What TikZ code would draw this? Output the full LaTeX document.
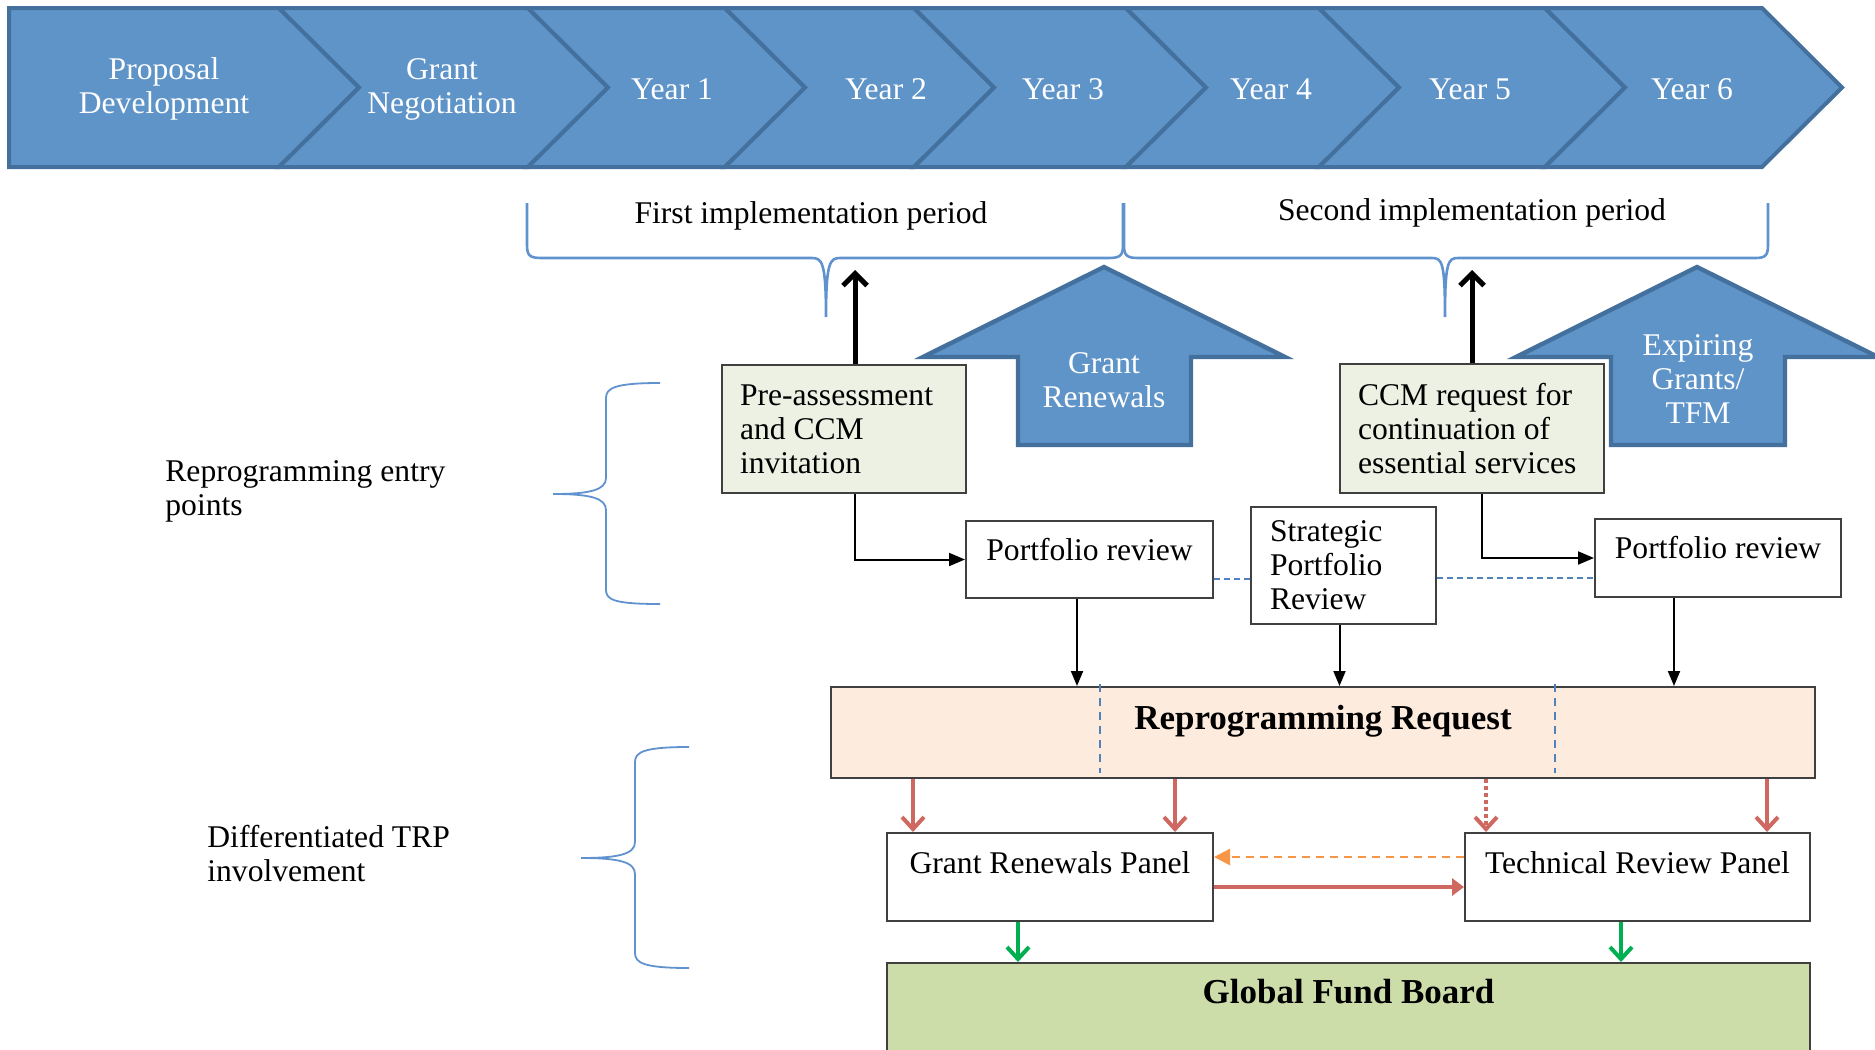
\documentclass[tikz,border=0pt]{standalone}
\usepackage{fontspec}
\setmainfont{Liberation Serif}
\usetikzlibrary{arrows.meta}

\definecolor{chevfill}{RGB}{95,148,200}
\definecolor{chevline}{RGB}{68,112,158}
\definecolor{bracecol}{RGB}{96,146,206}
\definecolor{boxline}{RGB}{64,64,64}
\definecolor{paleolive}{RGB}{237,241,227}
\definecolor{peach}{RGB}{253,235,222}
\definecolor{boardgreen}{RGB}{205,221,170}
\definecolor{redarrow}{RGB}{207,104,96}
\definecolor{orangearrow}{RGB}{247,150,70}
\definecolor{greenarrow}{RGB}{0,176,80}
\definecolor{linkblue}{RGB}{79,129,189}

\tikzset{
    txt/.style={font=\fontsize{15.8}{17}\selectfont, inner sep=0pt},
    boldtxt/.style={font=\fontsize{17.5}{19}\selectfont\bfseries, inner sep=0pt},
    chevron/.style={fill=chevfill, draw=chevline, line width=2pt, line join=miter},
    chevtext/.style={txt, text=white, align=center},
    entrybox/.style={txt, draw=boxline, line width=1pt, fill=paleolive, align=flush left, inner xsep=9pt},
    plainbox/.style={txt, draw=boxline, line width=1pt, fill=white},
    brace/.style={bracecol, line width=1.3pt},
    sidebrace/.style={bracecol, line width=0.9pt},
    thickup/.style={line width=2.5pt, -{Straight Barb[length=6pt,width=12pt]}},
    feed/.style={line width=1pt, -{Triangle[length=8pt,width=6.5pt]}},
    redbarb/.style={redarrow, line width=2pt, -{Straight Barb[length=6pt,width=11pt]}},
    greenbarb/.style={greenarrow, line width=2pt, -{Straight Barb[length=6pt,width=11pt]}},
    orangedash/.style={orangearrow, line width=1.2pt, dash pattern=on 4pt off 3pt, -{Triangle[length=8pt,width=8pt]}},
    redlink/.style={redarrow, line width=2.2pt, -{Triangle[length=6pt,width=8.5pt]}},
    linkdash/.style={linkblue, line width=1pt, dash pattern=on 3pt off 2pt},
    splitdash/.style={linkblue, line width=0.7pt, dash pattern=on 4pt off 3pt}
}

\begin{document}
\begin{tikzpicture}[x=0.5pt, y=-0.5pt]
    % page frame
    \useasboundingbox (0,0) rectangle (1875,1050);
    \clip (0,0) rectangle (1875,1050);

    % timeline chevrons
    \filldraw[chevron] (9,8) -- (279,8) -- (359,87.5) -- (279,167) -- (9,167) -- cycle;
    \foreach \xa/\xb in {279/528, 528/725, 725/914, 914/1126, 1126/1319, 1319/1545, 1545/1762}
        \filldraw[chevron] (\xa,8) -- (\xb,8) -- ({\xb+80},87.5) -- (\xb,167) -- (\xa,167) -- ({\xa+80},87.5) -- cycle;
    \foreach \cx/\ctext [count=\i] in {164/{Proposal\\Development}, 442/{Grant\\Negotiation},
            672/Year 1, 886/Year 2, 1063/Year 3, 1271/Year 4, 1470/Year 5, 1692/Year 6}
        \node[chevtext] (stage\i) at (\cx,89) {\ctext};

    % implementation period braces
    \draw[brace] (527,203) -- (527,245) .. controls (527,256) and (530,258) .. (542,258) -- (812,258)
        .. controls (822,258) and (826,262) .. (826,317) .. controls (826,262) and (830,258) .. (840,258)
        -- (1108,258) .. controls (1120,258) and (1123,256) .. (1123,245) -- (1123,203);
    \draw[brace] (1124,203) -- (1124,245) .. controls (1124,256) and (1127,258) .. (1139,258) -- (1432,258)
        .. controls (1442,258) and (1445,262) .. (1445,317) .. controls (1445,262) and (1448,258) .. (1458,258)
        -- (1755,258) .. controls (1765,258) and (1768,256) .. (1768,245) -- (1768,203);
    \node[txt] (period1) at (811,216) {First implementation period};
    \node[txt] (period2) at (1472,213) {Second implementation period};

    % block arrows
    \filldraw[chevron, line width=2.2pt] (1104,267) -- (1285,357) -- (1191,357) -- (1191,445)
        -- (1018,445) -- (1018,357) -- (923,357) -- cycle;
    \filldraw[chevron, line width=2.2pt] (1697,267) -- (1878,357) -- (1785,357) -- (1785,445)
        -- (1611,445) -- (1611,357) -- (1516,357) -- cycle;
    \node[chevtext] (renew) at (1104,380) {Grant\\Renewals};
    \node[chevtext] (expire) at (1698,379) {Expiring\\Grants/\\TFM};

    % side braces and labels
    \draw[sidebrace] (660,383) .. controls (615,383) and (606,388) .. (606,398) -- (606,478)
        .. controls (606,490) and (590,494) .. (553,494) .. controls (590,494) and (606,498) .. (606,510)
        -- (606,590) .. controls (606,600) and (615,604) .. (660,604);
    \draw[sidebrace] (689,747) .. controls (644,747) and (635,752) .. (635,762) -- (635,842)
        .. controls (635,854) and (619,858) .. (581,858) .. controls (619,858) and (635,862) .. (635,874)
        -- (635,953) .. controls (635,963) and (644,968) .. (689,968);
    \node[txt, anchor=west, align=left] (entrylbl) at (165,491) {Reprogramming entry\\points};
    \node[txt, anchor=west, align=left] (trplbl) at (207,854) {Differentiated TRP\\involvement};

    % entry point boxes
    \node[entrybox, text width=104pt, minimum height=64pt] (pre) at (844,429) {Pre-assessment\\and CCM\\invitation};
    \node[entrybox, text width=114pt, minimum height=64.5pt] (ccm) at (1472,428.5) {CCM request for\\continuation of\\essential services};
    \node[plainbox, align=flush left, inner xsep=9.5pt, text width=73.5pt, minimum height=58.5pt] (spr) at (1343.5,565.5) {Strategic\\Portfolio\\Review};
    \node[plainbox, minimum width=123.5pt, text height=19.5pt, text depth=19pt] (pr1) at (1089.5,559.5) {Portfolio review};
    \node[plainbox, minimum width=123pt, text height=19.5pt, text depth=19.5pt] (pr2) at (1718,558) {Portfolio review};

    % request, panels and board
    \node[boldtxt, draw=boxline, line width=1pt, fill=peach, minimum width=492pt, text height=21pt, text depth=24.5pt] (rr) at (1323,732.5) {Reprogramming Request};
    \node[plainbox, minimum width=163pt, text height=20pt, text depth=24pt] (grp) at (1050,877) {Grant Renewals Panel};
    \node[plainbox, minimum width=172.5pt, text height=20pt, text depth=24pt] (trp) at (1637.5,877) {Technical Review Panel};
    \node[boldtxt, draw=boxline, line width=1pt, fill=boardgreen, minimum width=461.5pt, text height=20pt, text depth=27pt] (gfb) at (1348.5,1010) {Global Fund Board};

    % arrows up to the periods
    \coordinate (tipA) at (855,270);
    \coordinate (tipB) at (1472,270);
    \draw[thickup] (pre.north -| tipA) -- (tipA);
    \draw[thickup] (ccm.north -| tipB) -- (tipB);

    % entry points to portfolio reviews
    \draw[feed] ([xshift=5.5pt]pre.south) |- (pr1.west);
    \draw[feed] ([xshift=5pt]ccm.south) |- (pr2.west);
    \draw[linkdash] ([yshift=-9.75pt]pr1.east) -- ([yshift=-9.75pt]pr1.east -| spr.west);
    \draw[linkdash] ([yshift=-10pt]pr2.west -| spr.east) -- ([yshift=-10pt]pr2.west);

    % reviews down to the request
    \draw[feed, -{Triangle[length=7.5pt,width=6pt]}] ([xshift=-6.25pt]pr1.south) -- ([xshift=-6.25pt]pr1.south |- rr.north);
    \draw[feed, -{Triangle[length=7.5pt,width=6pt]}] ([xshift=-2pt]spr.south) -- ([xshift=-2pt]spr.south |- rr.north);
    \draw[feed, -{Triangle[length=7.5pt,width=6pt]}] ([xshift=-22pt]pr2.south) -- ([xshift=-22pt]pr2.south |- rr.north);
    \draw[splitdash] ([xshift=-111.5pt,yshift=1pt]rr.north) -- ([xshift=-111.5pt,yshift=3pt]rr.south);
    \draw[splitdash] ([xshift=116pt,yshift=1pt]rr.north) -- ([xshift=116pt,yshift=3pt]rr.south);

    % request down to the panels
    \draw[redbarb] ([xshift=-68.5pt]grp.north |- rr.south) -- ([xshift=-68.5pt]grp.north);
    \draw[redbarb] ([xshift=62.5pt]grp.north |- rr.south) -- ([xshift=62.5pt]grp.north);
    \draw[redbarb, dash pattern=on 2pt off 1.5pt] ([xshift=-75.75pt]trp.north |- rr.south) -- ([xshift=-75.75pt]trp.north);
    \draw[redbarb] ([xshift=64.75pt]trp.north |- rr.south) -- ([xshift=64.75pt]trp.north);

    % between the panels
    \draw[orangedash] ([yshift=10pt]trp.west) -- ([yshift=10pt]trp.west -| grp.east);
    \draw[redlink] ([yshift=-5pt]grp.east) -- ([yshift=-5pt]grp.east -| trp.west);

    % panels to the board
    \draw[greenbarb] ([xshift=-16pt]grp.south) -- ([xshift=-16pt]grp.south |- gfb.north);
    \draw[greenbarb] ([xshift=-8.25pt]trp.south) -- ([xshift=-8.25pt]trp.south |- gfb.north);
\end{tikzpicture}
\end{document}
